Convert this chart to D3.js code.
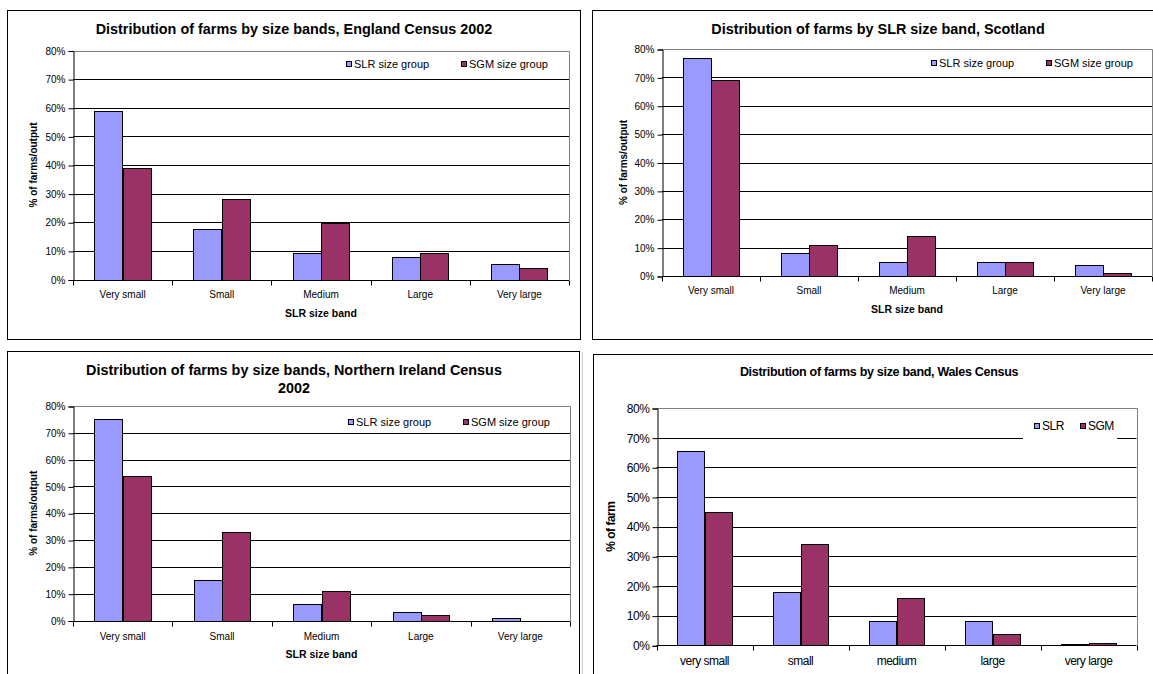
<!DOCTYPE html>
<html>
<head>
<meta charset="utf-8">
<script src="https://cdn.jsdelivr.net/npm/d3@7"></script>
<style>
  html, body { margin: 0; padding: 0; background: #fff; }
  svg { display: block; }
  text { font-family: "Liberation Sans", Arial, Helvetica, sans-serif; fill: #000; }
</style>
</head>
<body>
<svg id="chart" width="1153" height="674"></svg>
<script>
// Size bands (category labels)
const bandsTitle = ["Very small", "Small", "Medium", "Large", "Very large"];
const bandsLower = ["very small", "small", "medium", "large", "very large"];

// Percentage of farms in each band, by grouping
const englandSLR  = [59, 17.7, 9.3, 8, 5.4];
const englandSGM  = [39, 28, 19.7, 9.3, 4.1];
const scotlandSLR = [77, 8, 5, 5, 3.8];
const scotlandSGM = [69, 11, 14, 5, 1.1];
const niSLR       = [75, 15, 6, 3, 0.9];
const niSGM       = [54, 33, 11, 2, 0];
const walesSLR    = [65.5, 18, 8.2, 8.2, 0.5];
const walesSGM    = [45, 34, 16, 3.7, 0.9];

// Axis ticks (percent)
const yTicks = [0, 10, 20, 30, 40, 50, 60, 70, 80];

// Series names
const seriesLong  = ["SLR size group", "SGM size group"];
const seriesShort = ["SLR", "SGM"];
const seriesColors = ["#9999FF", "#993366"];

const svg = d3.select("#chart");

function drawPanel(p) {
  const g = svg.append("g");

  // outer chart frame
  g.append("rect")
    .attr("x", p.frame[0] + 0.5).attr("y", p.frame[1] + 0.5)
    .attr("width", p.frame[2]).attr("height", p.frame[3])
    .attr("fill", "#fff").attr("stroke", "#000").attr("stroke-width", 1);

  const y = d3.scaleLinear().domain([0, 80]).range([p.bottom, p.top]);
  const x0 = d3.scaleBand().domain(p.cats).range([p.left, p.right]).padding(0);
  const x1 = d3.scaleBand().domain([0, 1]).range([0, x0.bandwidth()])
    .paddingInner(0).paddingOuter(0.75);

  // gridlines
  g.append("g").selectAll("line")
    .data(yTicks.filter(t => t > 0 && t < 80))
    .join("line")
    .attr("x1", p.left).attr("x2", p.right)
    .attr("y1", d => Math.round(y(d)) + 0.5).attr("y2", d => Math.round(y(d)) + 0.5)
    .attr("stroke", "#000").attr("stroke-width", 1);

  // plot area border (top and right)
  const top = Math.round(y(80)) + 0.5;
  g.append("path")
    .attr("d", `M${p.left},${top}H${Math.round(p.right) + 0.5}V${Math.round(p.bottom)}`)
    .attr("fill", "none").attr("stroke", "#808080").attr("stroke-width", 1);

  // legend background (Wales legend sits over a gridline)
  if (p.legendBg) {
    g.append("rect")
      .attr("x", p.legendBg[0]).attr("y", p.legendBg[1])
      .attr("width", p.legendBg[2]).attr("height", p.legendBg[3])
      .attr("fill", "#fff");
  }

  // bars
  const series = [p.slr, p.sgm];
  series.forEach((vals, si) => {
    g.append("g").selectAll("rect")
      .data(vals.map((v, i) => ({ cat: p.cats[i], v })).filter(d => d.v > 0))
      .join("rect")
      .attr("x", d => Math.round(x0(d.cat) + x1(si)) + 0.5)
      .attr("y", d => Math.round(y(d.v)) + 0.5)
      .attr("width", Math.round(x1.bandwidth()))
      .attr("height", d => Math.max(0, Math.round(p.bottom) - Math.round(y(d.v))))
      .attr("fill", seriesColors[si])
      .attr("stroke", "#000").attr("stroke-width", 1);
  });

  // y axis
  const yAxis = d3.axisLeft(y).tickValues(yTicks).tickFormat(d => d + "%")
    .tickSize(5).tickPadding(3);
  const ya = g.append("g")
    .attr("transform", `translate(${Math.round(p.left) + 0.5},0.5)`)
    .call(yAxis);
  ya.select(".domain").attr("stroke", "#000");
  ya.selectAll(".tick line").attr("stroke", "#000");
  ya.selectAll(".tick text")
    .style("font-family", '"Liberation Sans", Arial, sans-serif')
    .style("font-size", p.tickFont + "px")
    .style("letter-spacing", p.tight ? "-0.4px" : "0px")
    .attr("fill", "#000");

  // x axis: baseline with tick marks at band boundaries
  const xBase = Math.round(p.bottom) + 0.5;
  g.append("line")
    .attr("x1", p.left).attr("x2", p.right)
    .attr("y1", xBase).attr("y2", xBase)
    .attr("stroke", "#000");
  const edges = p.cats.map(c => x0(c)).concat([x0.range()[1]]);
  g.append("g").selectAll("line").data(edges).join("line")
    .attr("x1", d => Math.round(d) + 0.5).attr("x2", d => Math.round(d) + 0.5)
    .attr("y1", xBase).attr("y2", xBase + 5)
    .attr("stroke", "#000");
  g.append("g").selectAll("text").data(p.cats).join("text")
    .attr("x", d => x0(d) + x0.bandwidth() / 2)
    .attr("y", p.catY)
    .attr("text-anchor", "middle")
    .attr("dominant-baseline", "central")
    .style("font-size", p.tickFont + "px")
    .style("letter-spacing", p.tight ? "-0.5px" : "0px")
    .text(d => d);

  // titles
  p.title.forEach((line, i) => {
    g.append("text")
      .attr("x", p.titleX).attr("y", p.titleY + i * p.titleLead)
      .attr("text-anchor", "middle").attr("dominant-baseline", "central")
      .style("font-size", p.titleFont + "px").style("font-weight", "bold")
      .style("letter-spacing", p.tight ? "-0.3px" : "0px")
      .text(line);
  });
  if (p.xTitle) {
    g.append("text")
      .attr("x", (p.left + p.right) / 2).attr("y", p.xTitleY)
      .attr("text-anchor", "middle").attr("dominant-baseline", "central")
      .style("font-size", "10.5px").style("font-weight", "bold")
      .text(p.xTitle);
  }
  g.append("text")
    .attr("transform", `translate(${p.yTitleX},${(p.top + p.bottom) / 2}) rotate(-90)`)
    .attr("text-anchor", "middle").attr("dominant-baseline", "central")
    .style("font-size", p.yTitleFont + "px").style("font-weight", "bold")
    .style("letter-spacing", p.tight ? "-0.5px" : "0px")
    .text(p.yTitle);

  // legend
  p.legendNames.forEach((name, i) => {
    const lx = p.legendX[i];
    g.append("rect")
      .attr("x", lx + 0.5).attr("y", Math.round(p.legendY - 3) + 0.5)
      .attr("width", 5).attr("height", 5)
      .attr("fill", seriesColors[i]).attr("stroke", "#000").attr("stroke-width", 1);
    g.append("text")
      .attr("x", lx + 8).attr("y", p.legendY)
      .attr("dominant-baseline", "central")
      .style("font-size", p.legendFont + "px")
      .style("letter-spacing", p.tight ? "-0.5px" : "0px")
      .text(name);
  });
}

// England
drawPanel({
  frame: [7, 10, 573, 329],
  left: 73, right: 569, top: 50.5, bottom: 279.5,
  cats: bandsTitle, slr: englandSLR, sgm: englandSGM,
  title: ["Distribution of farms by size bands, England Census 2002"],
  titleX: 294, titleY: 29, titleLead: 18, titleFont: 14.4,
  tickFont: 10, catY: 294, xTitle: "SLR size band", xTitleY: 313,
  yTitle: "% of farms/output", yTitleX: 33, yTitleFont: 10,
  legendNames: seriesLong, legendX: [346, 461], legendY: 64, legendFont: 11
});

// Scotland
drawPanel({
  frame: [592, 10, 570, 329],
  left: 662, right: 1152, top: 49, bottom: 276,
  cats: bandsTitle, slr: scotlandSLR, sgm: scotlandSGM,
  title: ["Distribution of farms by SLR size band, Scotland"],
  titleX: 878, titleY: 29, titleLead: 18, titleFont: 14.4,
  tickFont: 10, catY: 290, xTitle: "SLR size band", xTitleY: 309,
  yTitle: "% of farms/output", yTitleX: 623, yTitleFont: 10,
  legendNames: seriesLong, legendX: [931, 1046], legendY: 63, legendFont: 11
});

// Northern Ireland
drawPanel({
  frame: [7, 351, 572, 400],
  left: 73, right: 570, top: 406, bottom: 620.5,
  cats: bandsTitle, slr: niSLR, sgm: niSGM,
  title: ["Distribution of farms by size bands, Northern Ireland Census", "2002"],
  titleX: 294, titleY: 370, titleLead: 18, titleFont: 14.4,
  tickFont: 10, catY: 636, xTitle: "SLR size band", xTitleY: 654,
  yTitle: "% of farms/output", yTitleX: 33, yTitleFont: 10,
  legendNames: seriesLong, legendX: [348, 463], legendY: 422, legendFont: 11
});

// Wales
svg.append("line").attr("x1", 582.5).attr("x2", 582.5).attr("y1", 352).attr("y2", 674)
  .attr("stroke", "#c8c8c8");
drawPanel({
  frame: [593, 354, 600, 400],
  left: 656.5, right: 1136.5, top: 408, bottom: 645.3,
  cats: bandsLower, slr: walesSLR, sgm: walesSGM,
  title: ["Distribution of farms by size band, Wales Census"],
  titleX: 879, titleY: 372, titleLead: 18, titleFont: 12.5, tight: true,
  tickFont: 12, catY: 661, xTitle: null, xTitleY: 0,
  yTitle: "% of farm", yTitleX: 611, yTitleFont: 12,
  legendNames: seriesShort, legendX: [1034, 1080], legendY: 426, legendFont: 12,
  legendBg: [1023, 411, 94, 31]
});
</script>
</body>
</html>
